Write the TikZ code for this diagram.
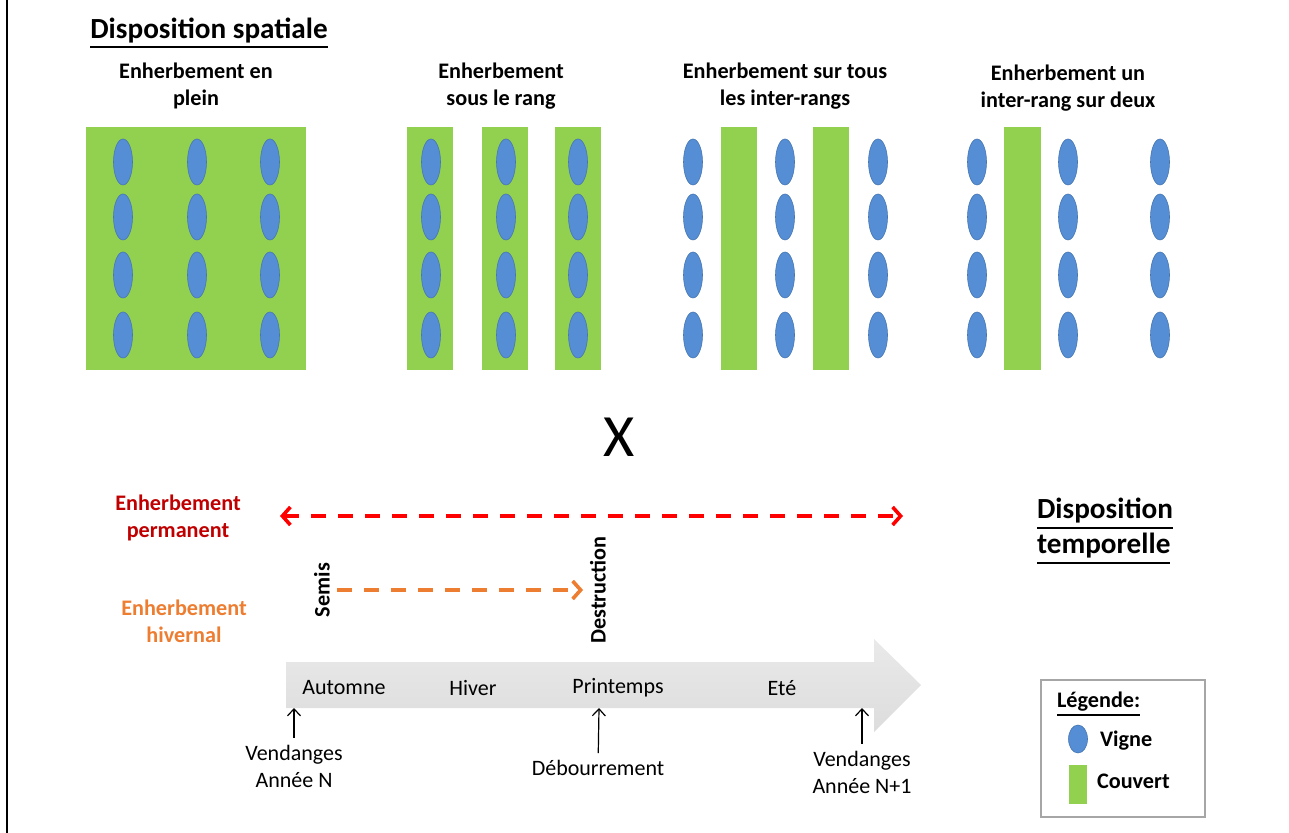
\documentclass[tikz,border=0pt]{standalone}
\usepackage{fontspec}
\setmainfont{Carlito}
\usetikzlibrary{arrows.meta,positioning}

\newcommand{\ulinetext}[1]{\leavevmode\vtop{\hbox{#1}\kern1.6pt\hrule height 0.9pt}}

\definecolor{vigneblue}{RGB}{85,142,213}
\definecolor{vigneedge}{RGB}{70,118,178}
\definecolor{couvertgreen}{RGB}{146,208,80}
\definecolor{permred}{RGB}{192,0,0}
\definecolor{arrowred}{RGB}{255,0,0}
\definecolor{hiverorange}{RGB}{237,125,49}
\definecolor{legendgray}{RGB}{166,166,166}

\tikzset{
title/.style={font=\fontsize{14.6}{17.5}\selectfont\bfseries, align=left},
caption/.style={font=\fontsize{11.1}{13.5}\selectfont\bfseries, align=center},
season/.style={font=\fontsize{11}{13.5}\selectfont, align=center},
vigne/.style={fill=vigneblue, draw=vigneedge, line width=0.3pt},
couvert/.style={fill=couvertgreen},
permline/.style={draw=arrowred, line width=1.8pt, dash pattern=on 7.5pt off 6pt,
  {Straight Barb[length=4pt,width=9pt]}-{Straight Barb[length=4pt,width=9pt]}},
winterline/.style={draw=hiverorange, line width=1.8pt, dash pattern=on 7.5pt off 6pt,
  -{Straight Barb[length=4pt,width=9pt]}},
tick/.style={draw, line width=0.6pt, -{Straight Barb[length=3.5pt,width=6.5pt]}}
}

\begin{document}
\begin{tikzpicture}[x=0.5pt, y=-0.5pt]
    \useasboundingbox (0,0) rectangle (1289,833);
    \draw[line width=1pt] (7,0) -- (7,833);
    % Spatial layouts
    \node [title] (spatial) at (209,33) {\ulinetext{Disposition spatiale}};
    \node [caption] (plein) at (196,86) {Enherbement en\\plein};
    \node [caption] (sousrang) at (501,86) {Enherbement\\sous le rang};
    \node [caption] (tousinter) at (785,86) {Enherbement sur tous\\les inter-rangs};
    \node [caption] (uninter) at (1068,88) {Enherbement un\\inter-rang sur deux};
    \fill [couvert] (86,127) rectangle (306,370);
    \fill [couvert] (407,127) rectangle (453,370);
    \fill [couvert] (482,127) rectangle (528,370);
    \fill [couvert] (555,127) rectangle (601,370);
    \fill [couvert] (721,127) rectangle (757,370);
    \fill [couvert] (813,127) rectangle (849,370);
    \fill [couvert] (1004,127) rectangle (1041,370);
    \foreach \x in {123,197,270,431,506,578,693,785,878,977,1068,1160}
        \foreach \y in {162,217,275,335}
            \draw [vigne] (\x,\y) ellipse [x radius=4.75pt, y radius=11.5pt];
    \node [font=\fontsize{30}{36}\selectfont] (cross) at (619,437) {X};
    % Temporal layouts
    \node [title] (temporal) at (1105,531) {\ulinetext{Disposition}\\\ulinetext{temporelle}};
    \node [caption, text=permred] (permanent) at (178,518) {Enherbement\\permanent};
    \node [caption, text=hiverorange] (hivernal) at (184,621) {Enherbement\\hivernal};
    \coordinate (permstart) at (280,516);
    \coordinate (permend) at (903,516);
    \path [permline] (permstart) -- (permend);
    \node [caption, rotate=90] (semis) at (322,590) {Semis};
    \node [caption, rotate=90] (destruction) at (598,590) {Destruction};
    \path [winterline] (semis.south) -- (destruction.north);
    % Time arrow
    \shade [top color=gray!17, bottom color=gray!27] (286,662) -- (874,662) -- (874,639)
        -- (921,685) -- (874,732) -- (874,708) -- (286,708) -- cycle;
    \node [season] (automne) at (344,688) {Automne};
    \node [season] (hiver) at (473,688) {Hiver};
    \node [season] (printemps) at (618,688) {Printemps};
    \node [season] (ete) at (782,688) {Eté};
    \coordinate (barN) at (294,708);
    \coordinate (barbud) at (599,708);
    \coordinate (barN1) at (862,708);
    \node [season] (vendangesN) at (294,766) {Vendanges\\Année N};
    \node [season] (debourrement) at (598,768) {Débourrement};
    \node [season] (vendangesN1) at (862,772) {Vendanges\\Année N+1};
    \path [tick] (vendangesN) -- (barN);
    \path [tick] (debourrement) -- (barbud);
    \path [tick] (vendangesN1) -- (barN1);
    % Legend
    \draw [legendgray, line width=0.8pt] (1041,680) rectangle (1205,817);
    \node [caption, anchor=west] (legende) at (1050,704) {\ulinetext{Légende:}};
    \draw [vigne] (1078,739) ellipse [x radius=4.75pt, y radius=7pt];
    \node [caption, anchor=west] (vigneleg) at (1093,741) {Vigne};
    \fill [couvert] (1069,765) rectangle (1087,804);
    \node [caption, anchor=west] (couvertleg) at (1090,781) {Couvert};
\end{tikzpicture}
\end{document}
